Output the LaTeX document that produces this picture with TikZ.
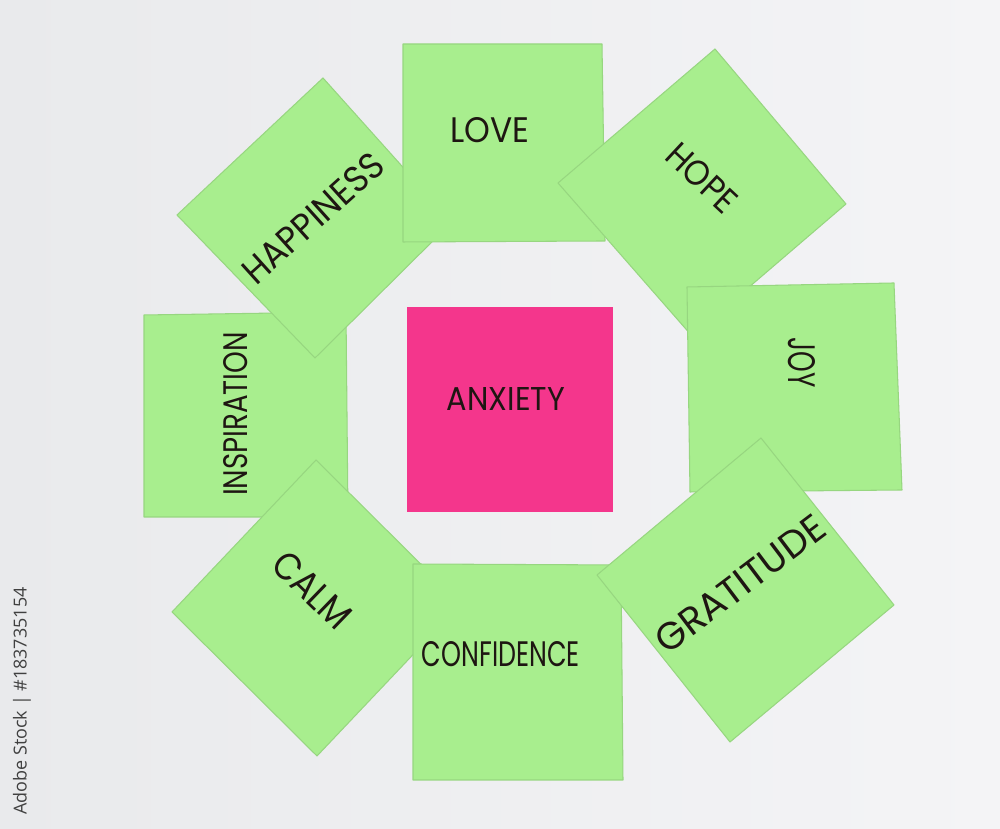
\documentclass[tikz,border=0pt]{standalone}
\usepackage{fontspec}
\usepackage{graphicx}
\setmainfont{Poppins}
\newfontfamily\idfont{Open Sans}
\definecolor{notegreen}{RGB}{168,238,142}
\definecolor{notepink}{RGB}{244,54,140}
\definecolor{ink}{RGB}{30,22,18}
\definecolor{bgleft}{RGB}{233,234,236}
\definecolor{bgright}{RGB}{244,244,246}
\newcommand{\handword}[3]{\resizebox{#1}{#2}{#3}}
\tikzset{
  note/.style={fill=notegreen, draw=notegreen!90!black, line width=0.3pt, line join=round},
  word/.style={text=ink, inner sep=0pt}
}
\begin{document}
\begin{tikzpicture}[x=0.1mm, y=-0.1mm]
  % background, in pixel units of the photo
  \fill[left color=bgleft, right color=bgright] (0,0) rectangle (1000,829);
  \useasboundingbox (0,0) rectangle (1000,829);

  % the ring of green notes, back to front
  \draw[note] (144,315) -- (346,312) -- (348,517) -- (144,517) -- cycle;
  \draw[note] (323,78) -- (177,215) -- (315,358) -- (452,222) -- cycle;
  \draw[note] (403,44) -- (602,44) -- (605,241) -- (403,242) -- cycle;
  \draw[note] (715,49) -- (558,183) -- (692,336) -- (846,204) -- cycle;
  \draw[note] (687,287) -- (894,283) -- (902,490) -- (690,492) -- cycle;
  \draw[note] (316,460) -- (172,612) -- (317,756) -- (461,604) -- cycle;
  \draw[note] (413,564) -- (621,565) -- (623,780) -- (413,780) -- cycle;
  \draw[note] (761,438) -- (597,575) -- (730,742) -- (894,605) -- cycle;

  % the pink one in the middle
  \fill[notepink] (407,307) rectangle (613,512);

  \node[word] (anxiety) at (506,399) {\handword{1.18cm}{0.23cm}{ANXIETY}};
  \node[word] (love) at (490,130) {\handword{0.79cm}{0.25cm}{LOVE}};
  \node[word, rotate=-43] (hope) at (702,178) {\handword{0.83cm}{0.25cm}{HOPE}};
  \node[word, rotate=-90] (joy) at (802,363) {\handword{0.50cm}{0.27cm}{JOY}};
  \node[word, rotate=37] (gratitude) at (740,584) {\handword{2.02cm}{0.27cm}{GRATITUDE}};
  \node[word] (confidence) at (501,654) {\handword{1.58cm}{0.25cm}{CONFIDENCE}};
  \node[word, rotate=-44] (calm) at (312,590) {\handword{0.93cm}{0.27cm}{CALM}};
  \node[word, rotate=90] (inspiration) at (236,414) {\handword{1.64cm}{0.24cm}{INSPIRATION}};
  \node[word, rotate=42] (happiness) at (313,218) {\handword{1.76cm}{0.26cm}{HAPPINESS}};

  % stock id along the left edge
  \node[text=black!75, inner sep=0pt, rotate=90] (stockid) at (22,701)
    {\resizebox{2.27cm}{!}{\idfont Adobe Stock | \#183735154}};
\end{tikzpicture}
\end{document}
